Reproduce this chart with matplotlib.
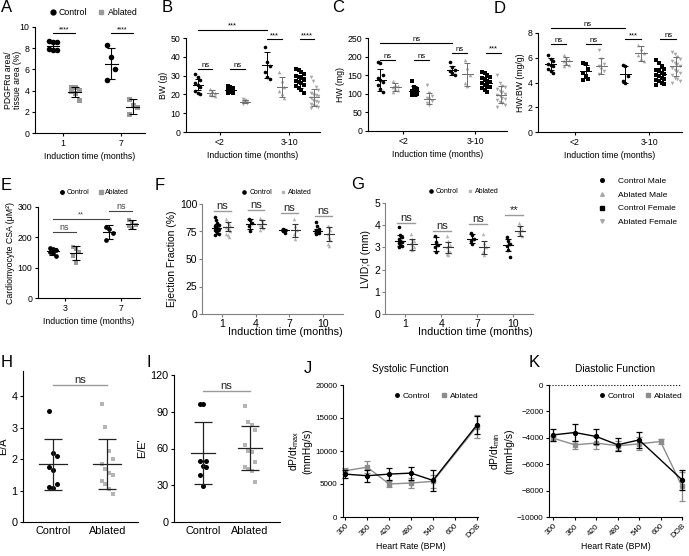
import numpy as np
import matplotlib.pyplot as plt
from matplotlib.lines import Line2D

plt.rcParams['font.family'] = ['Liberation Sans', 'DejaVu Sans']
plt.rcParams['mathtext.default'] = 'regular'

# ---------------- data ----------------
# A: PDGFRa area
a_times = ['1', '7']
a_ctrl_pts = [[8.65, 8.6, 8.55, 7.9, 7.85, 7.85], [8.3, 7.2, 6.0, 5.0]]
a_abl_pts = [[4.35, 4.3, 4.1, 4.0, 3.75, 3.1], [3.2, 2.6, 2.5, 1.8]]
a_ctrl_mean = [8.2, 6.55]
a_ctrl_sd = [0.25, 1.45]
a_abl_mean = [3.85, 2.5]
a_abl_sd = [0.45, 0.7]
a_sig = ['****', '****']
a_sig_y = [9.4, 9.4]

# B-D: groups = Control Male, Ablated Male, Control Female, Ablated Female
periods = ['<2', '3-10']
groups = ['Control Male', 'Ablated Male', 'Control Female', 'Ablated Female']

b_pts = [
    [[31, 29, 27.5, 26, 25, 24, 22, 21, 20],
     [23, 22, 21, 20, 19.5, 19],
     [24.5, 24, 23.5, 22.5, 22, 21, 20.5],
     [17.5, 17, 16.5, 16, 15.8, 15.5, 15]],
    [[45, 37, 35, 32, 29, 28],
     [32, 27, 24, 22, 20, 18],
     [33.5, 33, 32, 31, 30, 29, 28.5, 28, 27, 26.5, 26, 25, 24.5, 23.5, 22.5, 21],
     [29, 27, 24, 22.5, 21, 20, 19.5, 19, 18, 17, 16.5, 16, 15, 14.5, 14, 13.5, 13]],
]
b_mean = [[25.2, 20.5, 22.5, 16.2], [35.5, 24.0, 27.0, 18.5]]
b_sd = [[3.0, 1.6, 2.0, 1.0], [7.0, 5.5, 3.5, 4.5]]
b_sig = [['ns', 'ns'], ['***', '****']]
b_sig_y = [[33.5, 33.5], [49.5, 49.5]]
b_long = ('***', 54.4)

c_pts = [
    [[185, 182, 150, 142, 138, 132, 125, 112, 105],
     [135, 125, 120, 117, 113, 110, 106],
     [135, 118, 112, 108, 104, 100, 98],
     [125, 102, 95, 90, 85, 80, 75, 70]],
    [[185, 172, 165, 160, 155, 150],
     [190, 170, 150, 130, 120],
     [158, 155, 150, 145, 142, 138, 135, 132, 128, 125, 122, 118, 115, 110, 105],
     [150, 130, 122, 118, 112, 108, 104, 100, 97, 94, 90, 86, 82, 78, 74, 70, 65]],
]
c_mean = [[138, 118, 108, 87], [163, 152, 130, 98]]
c_sd = [[30, 11, 13, 15], [12, 30, 15, 22]]
c_sig = [['ns', 'ns'], ['ns', '***']]
c_sig_y = [[191, 191], [210, 210]]
c_long = ('ns', 237)

d_pts = [
    [[6.2, 5.9, 5.7, 5.5, 5.4, 5.3, 5.1, 4.9, 4.8],
     [6.2, 6.0, 5.8, 5.7, 5.6, 5.4, 5.3],
     [5.6, 5.5, 5.1, 4.8, 4.5, 4.3, 4.2],
     [6.6, 5.9, 5.5, 5.3, 5.1, 4.9, 4.7]],
    [[5.4, 5.3, 4.5, 4.1, 4.0],
     [7.0, 6.7, 6.4, 6.2, 5.9, 5.7],
     [5.8, 5.6, 5.3, 5.1, 5.0, 4.9, 4.8, 4.7, 4.6, 4.5, 4.4, 4.3, 4.2, 4.1, 4.0, 3.9, 3.8],
     [6.5, 6.3, 6.1, 5.9, 5.7, 5.6, 5.5, 5.3, 5.2, 5.0, 4.9, 4.8, 4.6, 4.4, 4.3, 4.1, 4.0]],
]
d_mean = [[5.5, 5.75, 4.9, 5.35], [4.65, 6.35, 4.7, 5.3]]
d_sd = [[0.5, 0.35, 0.55, 0.65], [0.65, 0.6, 0.45, 0.8]]
d_sig = [['ns', 'ns'], ['***', 'ns']]
d_sig_y = [[7.1, 7.1], [7.5, 7.5]]
d_long = ('ns', 8.4)

# E: cardiomyocyte CSA
e_times = ['3', '7']
e_ctrl_pts = [[165, 162, 158, 152, 147, 140], [235, 228, 215, 192]]
e_abl_pts = [[168, 160, 152, 140, 115], [258, 252, 242, 236, 230]]
e_ctrl_mean = [154, 218]
e_ctrl_sd = [11, 22]
e_abl_mean = [148, 243]
e_abl_sd = [22, 15]

# F: ejection fraction, G: LVID;d
fg_times = ['1', '4', '7', '10']
f_ctrl_pts = [[88, 85, 83, 81, 80, 79, 78, 77, 76, 75, 74, 73, 72],
              [86, 85, 83, 80, 75], [77, 76.5, 76, 75.5, 75, 74],
              [84, 80, 77, 76, 75.5, 75, 74.5, 74, 73.5, 73]]
f_abl_pts = [[86, 84, 82, 80, 79, 78, 77, 75, 73, 72, 70],
             [87, 85, 83, 81, 80, 78, 76], [86, 80, 76, 73, 68],
             [80, 79, 76, 73, 70, 67, 64, 62]]
f_ctrl_mean = [78.5, 82, 76, 75.5]
f_ctrl_sd = [3.5, 4.5, 1.0, 2.0]
f_abl_mean = [79.5, 81.5, 76, 72.5]
f_abl_sd = [4.5, 3.5, 6, 6.5]
f_sig = ['ns', 'ns', 'ns', 'ns']
f_sig_y = [94, 94.5, 91.5, 89]

g_ctrl_pts = [[3.9, 3.55, 3.45, 3.4, 3.3, 3.25, 3.2, 3.1, 3.05, 3.0],
              [3.5, 3.25, 3.1, 3.0, 2.8], [3.65, 3.55, 3.4, 3.3, 3.15],
              [3.45, 3.3, 3.15, 3.05, 2.9, 2.55]]
g_abl_pts = [[3.6, 3.4, 3.3, 3.2, 3.1, 3.0, 2.95, 2.9],
             [3.5, 3.3, 3.1, 3.0, 2.9, 2.8, 2.7, 2.65],
             [3.6, 3.2, 3.0, 2.8, 2.65], [4.1, 3.95, 3.8, 3.7, 3.6, 3.5]]
g_ctrl_mean = [3.3, 3.15, 3.4, 3.1]
g_ctrl_sd = [0.25, 0.3, 0.22, 0.28]
g_abl_mean = [3.15, 3.0, 3.0, 3.75]
g_abl_sd = [0.25, 0.25, 0.3, 0.22]
g_sig = ['ns', 'ns', 'ns', '**']
g_sig_y = [4.1, 3.72, 4.05, 4.47]

# H: E/A, I: E/E'
hi_groups = ['Control', 'Ablated']
h_ctrl = [3.52, 2.18, 2.1, 1.75, 1.65, 1.2, 1.12, 1.08]
h_abl = [3.75, 3.02, 2.25, 2.0, 1.85, 1.7, 1.55, 1.5, 1.3, 1.2, 1.05, 0.9]
h_mean = [1.83, 1.84]
h_sd = [0.8, 0.8]
h_sig_y = 4.35
i_ctrl = [96, 96, 50, 50, 46, 45, 38, 29]
i_abl = [95, 82, 79, 75, 63, 58, 57, 49, 45, 43, 42, 33]
i_mean = [56.3, 60.4]
i_sd = [25.3, 17.8]
i_sig_y = 107

# J / K: dP/dt vs heart rate
hr_labels = ['300', '360', '420', '480', '540', '600', 'DOB']
nan = np.nan
j_ctrl = [6500, 6250, 6500, 6650, 5540, nan, 13950]
j_ctrl_err = [600, 900, 950, 1000, 1600, nan, 1300]
j_abl = [7000, 7550, 5000, 5150, 5400, nan, 13700]
j_abl_err = [500, 900, 500, 800, 1000, nan, 1700]
k_ctrl = [-3780, -3600, -3900, -4530, -4160, nan, -7180]
k_ctrl_err = [430, 630, 550, 500, 630, nan, 760]
k_abl = [-4030, -4530, -4400, -4600, -4460, -4280, -7680]
k_abl_err = [200, 300, 450, 350, 500, 200, 1100]

# ---------------- helpers ----------------
W, H = 689, 556
fig = plt.figure(figsize=(W / 100, H / 100), dpi=100)


def px_axes(x0, y0, x1, y1):
    return fig.add_axes([x0 / W, 1 - y1 / H, (x1 - x0) / W, (y1 - y0) / H])


def style(ax, fs, color='k', lw=0.8):
    for s in ['top', 'right']:
        ax.spines[s].set_visible(False)
    for s in ['left', 'bottom']:
        ax.spines[s].set_linewidth(lw)
        ax.spines[s].set_color(color)
    ax.tick_params(labelsize=fs, length=2.5, width=lw, color=color, pad=1.5)


def spread(vals, w):
    vals = np.asarray(vals, dtype=float)
    order = np.argsort(-vals, kind='stable')
    pat = [-1, 0, 1] if len(vals) <= 10 else [-1.5, -0.5, 0.5, 1.5]
    offs = np.zeros(len(vals))
    for k, i in enumerate(order):
        offs[i] = pat[k % len(pat)] * w
    return offs


def dots(ax, x, pts, mean, sd, marker, color, ms, jw, mw, cap,
         ecolor='k', elw=0.8):
    pts = np.asarray(pts, dtype=float)
    ax.scatter(x + spread(pts, jw), pts, marker=marker, s=ms ** 2,
               color=color, linewidths=0, zorder=2, clip_on=False)
    ax.errorbar(x, mean, yerr=sd, fmt='none', ecolor=ecolor, elinewidth=elw,
                capsize=cap, capthick=elw, zorder=3)
    ax.plot([x - mw, x + mw], [mean, mean], color=ecolor, lw=elw, zorder=3)


def sig(ax, x0, x1, y, txt, fs, color='k', lw=0.8, tcolor=None):
    ax.plot([x0, x1], [y, y], color=color, lw=lw, clip_on=False)
    ax.text((x0 + x1) / 2, y, txt, ha='center', va='bottom', fontsize=fs,
            color=tcolor or color, clip_on=False)


def letter(x, y, s):
    fig.text(x / W, 1 - y / H, s, fontsize=12, ha='left', va='top')


def cl_legend(ax, x, y, fs, ms, acol, loc='center'):
    hs = [Line2D([], [], ls='none', marker='o', color='k', ms=ms),
          Line2D([], [], ls='none', marker='s', color=acol, ms=ms * 0.9)]
    ax.legend(hs, ['Control', 'Ablated'], ncol=2, loc=loc,
              bbox_to_anchor=(x, y), frameon=False, fontsize=fs,
              handletextpad=0.3, columnspacing=1.2, handlelength=0.8,
              borderpad=0, borderaxespad=0)


GRAY = '#9a9a9a'
LGRAY = '#b4b4b4'
FS = 6.3

# ---------------- A ----------------
ax = px_axes(35, 27, 145, 133)
style(ax, FS)
xc = np.arange(len(a_times))
for i in xc:
    dots(ax, i - 0.17, a_ctrl_pts[i], a_ctrl_mean[i], a_ctrl_sd[i], 'o', 'k',
         4, 0.07, 0.11, 2.9)
    dots(ax, i + 0.2, a_abl_pts[i], a_abl_mean[i], a_abl_sd[i], 's', GRAY,
         3.6, 0.07, 0.11, 2.9)
    sig(ax, i - 0.17, i + 0.2, a_sig_y[i], a_sig[i], 5)
ax.set_xlim(-0.48, 1.41)
ax.set_ylim(0, 10)
ax.set_yticks(range(0, 11, 2))
ax.set_xticks(xc, a_times)
ax.set_ylabel('PDGFRα area/\ntissue area (%)', fontsize=6.2, linespacing=1.0)
ax.yaxis.set_label_coords(-0.12, 0.5)
ax.set_xlabel('Induction time (months)', fontsize=FS, labelpad=3)
cl_legend(ax, 0.53, 1.14, FS, 3.5, GRAY)

# ---------------- B, C, D ----------------
g_off = [-0.32, -0.11, 0.15, 0.36]
g_mark = ['o', '^', 's', 'v']
g_col = ['k', '#a8a8a8', 'k', '#a8a8a8']
g_ecol = ['k', '#6e6e6e', 'k', '#6e6e6e']


def sex_panel(rect, pts, mean, sd, sigs, sig_y, long, ylim, yticks, ylabel):
    ax = px_axes(*rect)
    style(ax, FS)
    for p in range(len(periods)):
        for g in range(len(groups)):
            dots(ax, p + g_off[g], pts[p][g], mean[p][g], sd[p][g],
                 g_mark[g], g_col[g], 2.6, 0.035, 0.075, 2.3,
                 ecolor=g_ecol[g], elw=0.7)
        sig(ax, p + g_off[0], p + g_off[1], sig_y[p][0], sigs[p][0], 5.5)
        sig(ax, p + g_off[2], p + g_off[3], sig_y[p][1], sigs[p][1], 5.5)
    sig(ax, g_off[0], 1 + g_off[0], long[1], long[0], 5.5)
    ax.set_xlim(-0.49, 1.44)
    ax.set_ylim(*ylim)
    ax.set_yticks(yticks)
    ax.set_xticks(range(len(periods)), periods)
    ax.set_ylabel(ylabel, fontsize=FS, labelpad=2)
    ax.set_xlabel('Induction time (months)', fontsize=FS, labelpad=3)
    return ax


sex_panel((186, 38, 320, 132), b_pts, b_mean, b_sd, b_sig, b_sig_y, b_long,
          (0, 50), range(0, 51, 10), 'BW (g)')
sex_panel((368, 38, 507, 131), c_pts, c_mean, c_sd, c_sig, c_sig_y, c_long,
          (0, 250), range(0, 251, 50), 'HW (mg)')
axd = sex_panel((538, 33, 682, 132), d_pts, d_mean, d_sd, d_sig, d_sig_y,
                d_long, (0, 8), range(0, 9, 2), 'HW:BW (mg/g)')

# sex legend
hs = [Line2D([], [], ls='none', marker=g_mark[g], color=g_col[g], ms=2.6)
      for g in range(len(groups))]
fig.legend(hs, groups, loc='upper left', bbox_to_anchor=(598 / W, 1 - 177 / H),
           frameon=False, fontsize=6, handletextpad=1.4, handlelength=1.0,
           labelspacing=0.72, borderpad=0, borderaxespad=0)

# ---------------- E ----------------
ax = px_axes(38, 207, 140, 298)
style(ax, FS)
xc = np.arange(len(e_times))
for i in xc:
    dots(ax, i - 0.21, e_ctrl_pts[i], e_ctrl_mean[i], e_ctrl_sd[i], 'o', 'k',
         3.4, 0.06, 0.11, 2.6)
    dots(ax, i + 0.2, e_abl_pts[i], e_abl_mean[i], e_abl_sd[i], 's', GRAY,
         3.2, 0.06, 0.11, 2.6)
sig(ax, -0.21, 0.2, 218, 'ns', 6.5, color='#444444')
sig(ax, -0.21, 1 - 0.21, 262, '**', 5.5, color='#444444')
sig(ax, 1 - 0.21, 1.2, 288, 'ns', 6.5, color='#444444')
ax.set_xlim(-0.48, 1.34)
ax.set_ylim(0, 300)
ax.set_yticks(range(0, 301, 100))
ax.set_xticks(xc, e_times)
ax.set_ylabel('Cardiomyocyte CSA (μM²)', fontsize=FS, labelpad=2)
ax.set_xlabel('Induction time (months)', fontsize=FS, labelpad=3)
cl_legend(ax, 0.55, 1.16, 5, 2.5, GRAY)

# ---------------- F, G ----------------
SPC = '#808080'


def time_panel(rect, cpts, apts, cm, csd, am, asd, sigs, sig_y, ylim, yticks,
               ylabel, coff, aoff):
    ax = px_axes(*rect)
    style(ax, 7.5, color=SPC)
    ax.tick_params(labelcolor='k', pad=1)
    for i in range(len(fg_times)):
        dots(ax, i + coff, cpts[i], cm[i], csd[i], 'o', 'k', 2.6, 0.04,
             0.14, 2.4)
        dots(ax, i + aoff, apts[i], am[i], asd[i], '^', LGRAY, 2.6, 0.04,
             0.14, 2.4, ecolor='#333333')
        sig(ax, i + coff - 0.08, i + aoff + 0.08, sig_y[i], sigs[i], 8,
            color=GRAY, lw=1.0, tcolor='#222222')
    ax.set_ylim(*ylim)
    ax.set_yticks(yticks)
    ax.set_xticks(range(len(fg_times)), fg_times)
    ax.set_ylabel(ylabel, fontsize=7.5, labelpad=2)
    ax.set_xlabel('Induction time (months)', fontsize=7.8, labelpad=-1,
                  loc='right')
    cl_legend(ax, 0.53, 1.1, 5, 2.3, LGRAY)
    return ax


ax = time_panel((202, 204, 343, 314), f_ctrl_pts, f_abl_pts, f_ctrl_mean,
                f_ctrl_sd, f_abl_mean, f_abl_sd, f_sig, f_sig_y, (0, 100),
                range(0, 101, 25), 'Ejection Fraction (%)', -0.16, 0.18)
ax.set_xlim(-0.6, 3.6)
ax = time_panel((385, 203, 533, 314), g_ctrl_pts, g_abl_pts, g_ctrl_mean,
                g_ctrl_sd, g_abl_mean, g_abl_sd, g_sig, g_sig_y, (0, 5),
                range(0, 6), 'LVID;d (mm)', -0.14, 0.2)
ax.set_xlim(-0.56, 3.55)

# ---------------- H, I ----------------


def pair_panel(rect, c, a, mean, sd, sig_y, ylim, yticks, ylabel, xlim):
    ax = px_axes(*rect)
    style(ax, 7.8)
    dots(ax, 0, c, mean[0], sd[0], 'o', 'k', 3.6, 0.07, 0.26, 6.5,
         ecolor='#222222', elw=0.9)
    dots(ax, 1, a, mean[1], sd[1], 's', LGRAY, 3.4, 0.07, 0.26, 6.5,
         ecolor='#222222', elw=0.9)
    sig(ax, 0, 1, sig_y, 'ns', 8, color=GRAY, lw=1.0, tcolor='#222222')
    ax.set_xlim(*xlim)
    ax.set_ylim(*ylim)
    ax.set_yticks(yticks)
    ax.set_xticks([0, 1], hi_groups)
    ax.tick_params(axis='x', length=0, pad=3)
    ax.set_ylabel(ylabel, fontsize=7.8, labelpad=2)
    return ax


pair_panel((23, 371, 138, 522), h_ctrl, h_abl, h_mean, h_sd, h_sig_y,
           (0, 4.8), range(0, 5), 'E/A', (-0.56, 1.57))
pair_panel((174, 375, 280, 522), i_ctrl, i_abl, i_mean, i_sd, i_sig_y,
           (0, 120), range(0, 121, 30), "E/E'", (-0.62, 1.64))

# ---------------- J, K ----------------


def hr_panel(rect, c, ce, a, ae, ylim, yticks, title, xlim, sub):
    ax = px_axes(*rect)
    style(ax, 5.8)
    x = np.arange(len(hr_labels))
    c = np.asarray(c, float)
    a = np.asarray(a, float)
    mc = ~np.isnan(c)
    ma = ~np.isnan(a)
    ax.errorbar(x[ma], a[ma], yerr=np.asarray(ae, float)[ma], color='#8c8c8c',
                marker='s', ms=2.8, lw=1.0, capsize=2.2, elinewidth=0.9,
                capthick=0.9, zorder=2, clip_on=False)
    ax.errorbar(x[mc], c[mc], yerr=np.asarray(ce, float)[mc], color='k',
                marker='o', ms=2.8, lw=1.0, capsize=2.2, elinewidth=0.9,
                capthick=0.9, zorder=3, clip_on=False)
    ax.set_xlim(*xlim)
    ax.set_ylim(*ylim)
    ax.set_yticks(yticks)
    ax.set_xticks(x)
    ax.set_xticklabels(hr_labels, rotation=45, ha='right',
                       rotation_mode='anchor')
    ax.set_xlabel('Heart Rate (BPM)', fontsize=6.3, labelpad=2)
    ax.set_ylabel('dP/dt$_{' + sub + '}$\n(mmHg/s)', fontsize=7.5, labelpad=2)
    ax.set_title(title, fontsize=7.3, pad=9)
    cl_legend(ax, 0.69, 0.915, 6, 2.5, '#8c8c8c')
    return ax


hr_panel((343, 385, 478, 517), j_ctrl, j_ctrl_err, j_abl, j_abl_err,
         (0, 20000), range(0, 20001, 5000), 'Systolic Function',
         (-0.1, 6.05), 'max')
axk = hr_panel((549, 385, 682, 517), k_ctrl, k_ctrl_err, k_abl, k_abl_err,
               (-10000, 0), range(-10000, 1, 2000), 'Diastolic Function',
               (-0.2, 6.0), 'min')
axk.axhline(0, ls=':', color='k', lw=0.8)

# ---------------- panel letters ----------------
for s, x, y in [('A', 1, 0), ('B', 162, 0), ('C', 332, 0), ('D', 494, 1),
                ('E', 1, 178), ('F', 155, 178), ('G', 351, 177),
                ('H', 1, 355), ('I', 147, 355), ('J', 304, 361),
                ('K', 529, 355)]:
    letter(x, y, s)

fig.savefig('out.png', dpi=100)
